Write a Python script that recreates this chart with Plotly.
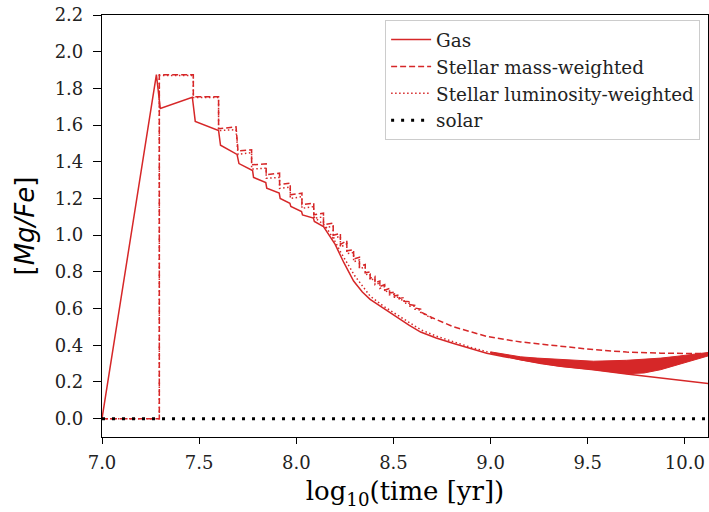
import plotly.graph_objects as go

RED = "#d62728"

# ---------------- data ----------------
gas_t = [7.0, 7.28, 7.30, 7.465, 7.48, 7.60, 7.61, 7.695, 7.705, 7.775, 7.78, 7.843, 7.848,
         7.912, 7.917, 7.967, 7.972, 8.027, 8.032, 8.088, 8.093, 8.14, 8.20, 8.245, 8.295,
         8.34, 8.38, 8.43, 8.47, 8.52, 8.58, 8.64, 8.72, 8.81, 8.90, 8.98, 9.07, 9.155,
         9.26, 9.36, 9.53, 9.70, 9.876, 10.0, 10.13]
gas_v = [0.0, 1.875, 1.69, 1.752, 1.62, 1.57, 1.49, 1.44, 1.39, 1.352, 1.315, 1.287, 1.256,
         1.229, 1.20, 1.174, 1.156, 1.129, 1.11, 1.093, 1.075, 1.047, 0.95, 0.85, 0.75,
         0.69, 0.65, 0.615, 0.585, 0.55, 0.51, 0.472, 0.44, 0.41, 0.38, 0.357, 0.338, 0.32,
         0.30, 0.285, 0.267, 0.243, 0.222, 0.207, 0.19]

# Stellar mass-weighted (dashed)
mw_early_t = [7.0, 7.295, 7.295, 7.47, 7.47, 7.60, 7.60, 7.69, 7.70]
mw_early_v = [0.0, 0.0, 1.874, 1.874, 1.755, 1.755, 1.58, 1.59, 1.46]
tooth_t = [7.77, 7.845, 7.914, 7.969, 8.029, 8.09, 8.14, 8.19, 8.227, 8.26, 8.295, 8.325,
           8.355, 8.38, 8.405, 8.43, 8.455, 8.48, 8.505, 8.53, 8.555, 8.58, 8.61, 8.64]
mw_tooth_top = [1.465, 1.389, 1.338, 1.284, 1.229, 1.175, 1.12, 1.066, 1.01, 0.97, 0.92, 0.88,
                0.84, 0.80, 0.775, 0.75, 0.73, 0.71, 0.69, 0.675, 0.66, 0.638, 0.617, 0.597]
mw_tooth_bot = [1.383, 1.33, 1.275, 1.22, 1.166, 1.111, 1.057, 1.00, 0.95, 0.915, 0.87, 0.83,
                0.795, 0.765, 0.74, 0.72, 0.70, 0.685, 0.668, 0.655, 0.64, 0.622, 0.603, 0.582]
mw_late_t = [8.70, 8.81, 8.98, 9.155, 9.36, 9.53, 9.70, 9.876, 10.13]
mw_late_v = [0.55, 0.50, 0.448, 0.418, 0.394, 0.376, 0.363, 0.357, 0.354]

# Stellar luminosity-weighted (dotted)
lum_early_t = [7.0, 7.295, 7.295, 7.47, 7.47, 7.60, 7.60, 7.69, 7.70]
lum_early_v = [0.0, 0.0, 1.87, 1.87, 1.75, 1.75, 1.57, 1.575, 1.44]
lum_tooth_top = [1.45, 1.365, 1.315, 1.262, 1.21, 1.156, 1.10, 1.048, 0.993, 0.953, 0.905, 0.865,
                 0.826, 0.788, 0.763, 0.74, 0.72, 0.70, 0.68, 0.665, 0.65, 0.632, 0.612, 0.592]
lum_tooth_bot = [1.36, 1.31, 1.255, 1.20, 1.146, 1.092, 1.04, 0.985, 0.935, 0.90, 0.855, 0.818,
                 0.785, 0.755, 0.73, 0.71, 0.69, 0.675, 0.658, 0.645, 0.628, 0.612, 0.597, 0.58]
lum_late_t = [8.70]
lum_late_v = [0.545]
lum_low_t = [8.09, 8.15, 8.20, 8.227, 8.30, 8.38, 8.45, 8.52, 8.64, 8.72, 8.81, 8.90, 8.98, 9.07]
lum_low_v = [1.10, 1.05, 0.965, 0.91, 0.78, 0.668, 0.612, 0.565, 0.485, 0.45, 0.418, 0.388, 0.365, 0.345]
band_t = [9.0, 9.155, 9.24, 9.36, 9.53, 9.70, 9.79, 9.876, 9.96, 10.08, 10.13]
band_hi = [0.364, 0.337, 0.33, 0.324, 0.313, 0.318, 0.323, 0.33, 0.34, 0.356, 0.362]
band_lo = [0.357, 0.32, 0.305, 0.285, 0.267, 0.245, 0.249, 0.267, 0.294, 0.33, 0.345]

solar_t = [7.0, 10.13]
solar_v = [0.0, 0.0]

x_ticks = [7.0, 7.5, 8.0, 8.5, 9.0, 9.5, 10.0]
y_ticks = [0.0, 0.2, 0.4, 0.6, 0.8, 1.0, 1.2, 1.4, 1.6, 1.8, 2.0, 2.2]


def sawtooth(t0, v0, tt, top, bot, t1, v1):
    xs, ys = list(t0), list(v0)
    for t, a, b in zip(tt, top, bot):
        xs += [t, t]
        ys += [a, b]
    return xs + list(t1), ys + list(v1)


mw_x, mw_y = sawtooth(mw_early_t, mw_early_v, tooth_t, mw_tooth_top, mw_tooth_bot, mw_late_t, mw_late_v)
lum_x, lum_y = sawtooth(lum_early_t, lum_early_v, tooth_t, lum_tooth_top, lum_tooth_bot, lum_late_t, lum_late_v)

fig = go.Figure()
fig.add_trace(go.Scatter(x=gas_t, y=gas_v, mode="lines", name="Gas",
                         line=dict(color=RED, width=1.5)))
fig.add_trace(go.Scatter(x=mw_x, y=mw_y, mode="lines", name="Stellar mass-weighted",
                         line=dict(color=RED, width=1.5, dash="6px,3px")))
fig.add_trace(go.Scatter(x=lum_x, y=lum_y, mode="lines", name="Stellar luminosity-weighted",
                         line=dict(color=RED, width=1.5, dash="1.5px,2.5px")))
fig.add_trace(go.Scatter(x=lum_low_t, y=lum_low_v, mode="lines", showlegend=False,
                         line=dict(color=RED, width=1.5, dash="1.5px,2.5px")))
fig.add_trace(go.Scatter(x=band_t + band_t[::-1], y=band_hi + band_lo[::-1], mode="lines",
                         fill="toself", fillcolor=RED, showlegend=False,
                         line=dict(color=RED, width=1)))
fig.add_trace(go.Scatter(x=solar_t, y=solar_v, mode="lines", name="solar",
                         line=dict(color="black", width=3, dash="3px,7px")))

axis_common = dict(showline=True, linecolor="black", linewidth=1.2, mirror=True,
                   ticks="outside", tickwidth=1.2, tickcolor="black",
                   showgrid=False, zeroline=False, automargin=False,
                   tickfont=dict(family="DejaVu Serif", size=18, color="#222"))

fig.update_layout(
    width=709, height=512,
    margin=dict(l=102, r=1, t=15, b=75),
    paper_bgcolor="white", plot_bgcolor="white",
    xaxis=dict(range=[7.0, 10.119], tickvals=x_ticks, ticktext=[f"{v:.1f}" for v in x_ticks],
               ticklen=6, ticklabelstandoff=3,
               title=dict(text="log<sub>10</sub>(time [yr])",
                          font=dict(family="DejaVu Serif", size=26, color="black"), standoff=10),
               **axis_common),
    yaxis=dict(range=[-0.1, 2.2], tickvals=y_ticks, ticktext=[f"{v:.1f}" for v in y_ticks],
               ticklen=8, ticklabelstandoff=6,
               title=dict(text="[<i>Mg/Fe</i>]",
                          font=dict(family="DejaVu Sans", size=26, color="black"), standoff=12),
               **axis_common),
    legend=dict(x=0.987, xanchor="right", y=0.988, yanchor="top", itemwidth=40,
                bgcolor="white", bordercolor="#cccccc", borderwidth=1,
                font=dict(family="DejaVu Serif", size=18.4, color="#222")),
)

fig.write_html("out.html", config={"displayModeBar": False},
               post_script="document.body.style.margin='0px';document.body.style.overflow='hidden';")
